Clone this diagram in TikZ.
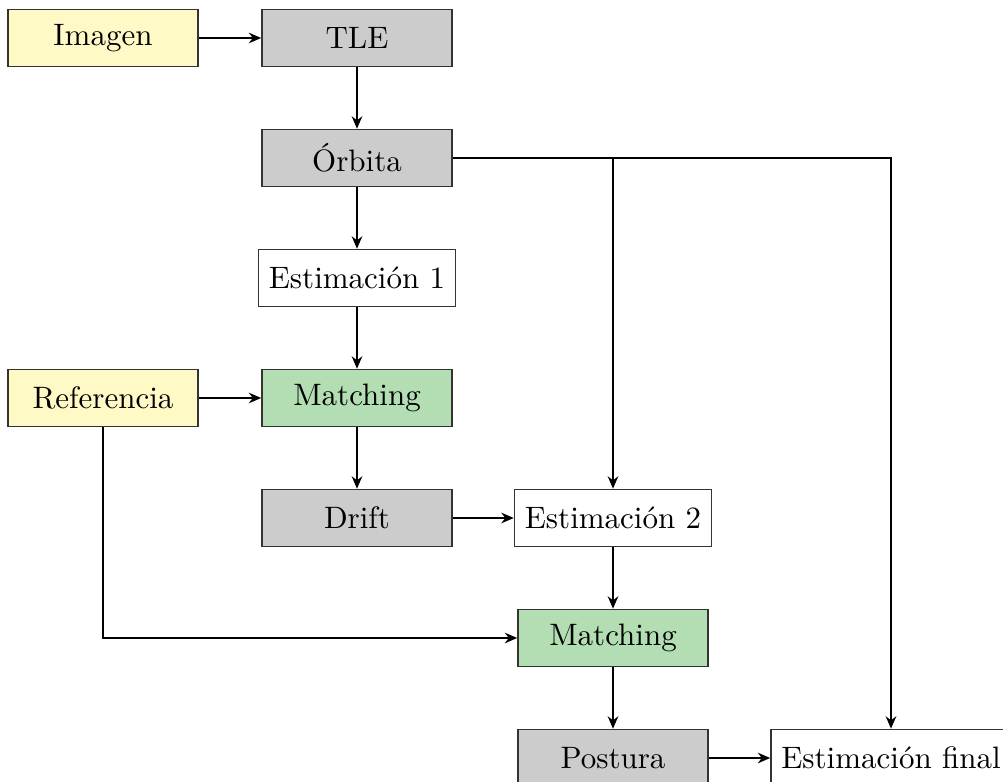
\documentclass[tikz,border=0pt]{standalone}
\usetikzlibrary{arrows.meta}
\definecolor{ylw}{RGB}{255,249,197}
\definecolor{gry}{RGB}{204,204,204}
\definecolor{grn}{RGB}{179,222,179}
\tikzset{
  base/.style={draw=black!80, line width=0.5pt, minimum height=18.4pt, inner sep=0.3333em, anchor=center},
  fixbox/.style={base, minimum width=61.3pt},
  inbox/.style={fixbox, fill=ylw},
  procbox/.style={fixbox, fill=gry},
  matchbox/.style={fixbox, fill=grn},
  estbox/.style={base, fill=white},
  conn/.style={line width=0.8pt, -{Stealth[length=4pt,width=3.4pt,inset=1.3pt]}}
}
\begin{document}
\begin{tikzpicture}[x=0.3226pt, y=-0.3226pt]
\useasboundingbox (0,0) rectangle (1003,782);
\node[inbox]   (img)  at (103,38)  {Imagen};
\node[procbox] (tle)  at (357,38)  {TLE};
\node[procbox] (orb)  at (357,158) {Órbita};
\node[estbox]  (est1) at (357,278) {Estimación 1};
\node[inbox]   (ref)  at (103,398) {Referencia};
\node[matchbox](m1)   at (357,398) {Matching};
\node[procbox] (dri)  at (357,518) {Drift};
\node[estbox]  (est2) at (613,518) {Estimación 2};
\node[matchbox](m2)   at (613,638) {Matching};
\node[procbox] (pos)  at (613,758) {Postura};
\node[estbox]  (estf) at (891,758) {Estimación final};

\draw[conn] (img) -- (tle);
\draw[conn] (tle) -- (orb);
\draw[conn] (orb) -- (est1);
\draw[conn] (est1) -- (m1);
\draw[conn] (ref) -- (m1);
\draw[conn] (m1) -- (dri);
\draw[conn] (dri) -- (est2);
\draw[conn] (est2) -- (m2);
\draw[conn] (m2) -- (pos);
\draw[conn] (pos) -- (estf);
\draw[conn] (orb.east) -| (est2.north);
\draw[conn] (orb.east) -| (estf.north);
\draw[conn] (ref.south) |- (m2.west);
\end{tikzpicture}
\end{document}
